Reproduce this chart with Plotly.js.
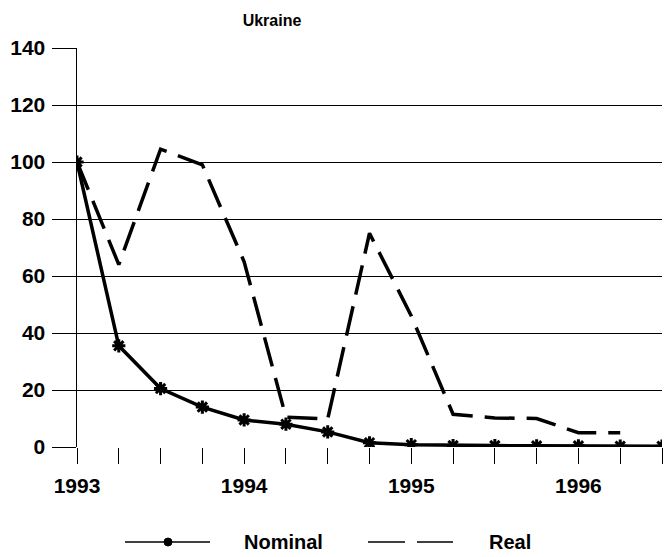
<!DOCTYPE html>
<html>
<head>
<meta charset="utf-8">
<script src="https://cdn.plot.ly/plotly-3.0.1.min.js"></script>
<style>html,body{margin:0;padding:0;background:#fff;}#chart{width:664px;height:557px;}</style>
</head>
<body>
<div id="chart"></div>
<script>
// Quarterly observations, 1993 Q1 .. 1996 Q3
const quarters = [1993.0, 1993.25, 1993.5, 1993.75, 1994.0, 1994.25, 1994.5, 1994.75,
                  1995.0, 1995.25, 1995.5, 1995.75, 1996.0, 1996.25, 1996.5];
const nominal = [100, 35.5, 20.5, 14, 9.5, 8, 5.3, 1.5, 0.8, 0.5, 0.5, 0.4, 0.4, 0.3, 0.3];
const realQuarters = quarters.slice(0, 14);
const real = [100, 64, 104.5, 99, 65, 10.5, 9.8, 75, 46, 11.5, 10.2, 10, 5, 5];
const yearTicks = [1993, 1994, 1995, 1996];
const titleText = "Ukraine";
const seriesNames = ["Nominal", "Real"];

const tickText = quarters.map(q => yearTicks.includes(q) ? String(q) : "");
const FONT = "Liberation Sans, Arial, Helvetica, sans-serif";

// plot-area geometry (pixels) used to place the hand-drawn legend in paper units
const PL = 77, PR = 662, PT = 48, PB = 447;
const px = v => (v - PL) / (PR - PL);
const py = v => (PB - v) / (PB - PT);
const LEG_Y = 542;

const traces = [
  {
    x: quarters, y: nominal, name: seriesNames[0], type: "scatter", mode: "lines+markers",
    line: {color: "#000", width: 3.5},
    marker: {symbol: "asterisk-open", size: 11, color: "#000", line: {color: "#000", width: 3}}
  },
  {
    x: realQuarters, y: real, name: seriesNames[1], type: "scatter", mode: "lines",
    line: {color: "#000", width: 3.5, dash: "30px,12px"}
  }
];

const legendFont = {family: FONT, size: 20, weight: "bold", color: "#000"};

const layout = {
  width: 664, height: 557,
  margin: {l: PL, r: 664 - PR, t: PT, b: 557 - PB},
  paper_bgcolor: "#fff", plot_bgcolor: "#fff",
  font: {family: FONT, color: "#000", weight: "bold"},
  title: {text: titleText, font: {family: FONT, size: 16, weight: "bold", color: "#000"},
          xref: "container", x: 272/664, xanchor: "center", yref: "container", y: 1 - 20/557, yanchor: "middle"},
  xaxis: {
    range: [1993, 1996.5], tickmode: "array", tickvals: quarters, ticktext: tickText,
    ticks: "outside", ticklen: 16, tickwidth: 1, tickcolor: "#000",
    showgrid: false, zeroline: false, showline: false,
    tickfont: {family: FONT, size: 21, weight: "bold", color: "#000"},
    ticklabelstandoff: 4
  },
  yaxis: {
    range: [0, 140], tickvals: [0, 20, 40, 60, 80, 100, 120, 140],
    ticks: "outside", ticklen: 24, tickwidth: 1, tickcolor: "#000",
    showgrid: true, gridcolor: "#000", gridwidth: 1,
    zeroline: false, showline: true, linecolor: "#000", linewidth: 1.5,
    tickfont: {family: FONT, size: 21, weight: "bold", color: "#000"},
    ticklabelstandoff: 2
  },
  showlegend: false,
  shapes: [
    {type: "line", xref: "paper", yref: "paper", x0: px(125), x1: px(210), y0: py(LEG_Y), y1: py(LEG_Y),
     line: {color: "#000", width: 1.5}},
    {type: "circle", xref: "paper", yref: "paper", xsizemode: "pixel", ysizemode: "pixel",
     xanchor: px(168), yanchor: py(LEG_Y), x0: -4, x1: 4, y0: -4, y1: 4,
     fillcolor: "#000", line: {color: "#000", width: 1}},
    {type: "line", xref: "paper", yref: "paper", x0: px(368), x1: px(453), y0: py(LEG_Y), y1: py(LEG_Y),
     line: {color: "#000", width: 1.5, dash: "37px,12px"}}
  ],
  annotations: [
    {text: seriesNames[0], xref: "paper", yref: "paper", x: px(242), y: py(LEG_Y),
     xanchor: "left", yanchor: "middle", showarrow: false, font: legendFont},
    {text: seriesNames[1], xref: "paper", yref: "paper", x: px(487), y: py(LEG_Y),
     xanchor: "left", yanchor: "middle", showarrow: false, font: legendFont}
  ]
};

Plotly.newPlot("chart", traces, layout, {displayModeBar: false, staticPlot: true});
</script>
</body>
</html>
